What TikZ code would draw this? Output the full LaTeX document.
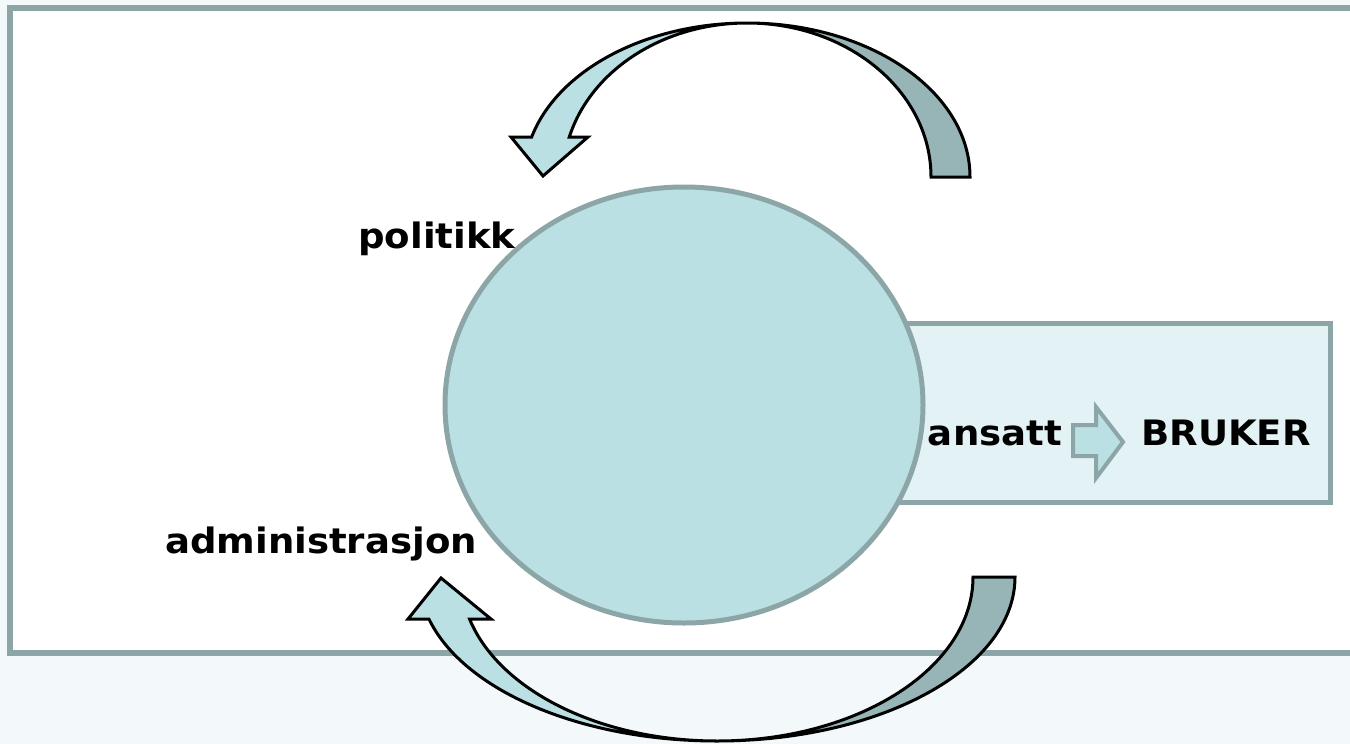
\documentclass[tikz,border=0pt]{standalone}
\usepackage{fontspec}
\setmainfont{DejaVu Sans}
\newfontfamily\lblfont[FakeStretch=1.06]{DejaVu Sans}
\usetikzlibrary{shapes.geometric}
\definecolor{pagebg}{HTML}{F3F8FA}
\definecolor{framegray}{HTML}{8CA6A8}
\definecolor{boxfill}{HTML}{E3F2F4}
\definecolor{lightteal}{HTML}{BBE0E3}
\definecolor{darkteal}{HTML}{97B5B6}

\begin{document}
\begin{tikzpicture}[x=1pt,y=-1pt,
    lbl/.style={font=\lblfont\bfseries\fontsize{35}{42}\selectfont,inner sep=0pt,anchor=base},
    curvearrow/.style={draw=black,line width=3pt}]
    \useasboundingbox (0,0) rectangle (1350,744);
    \clip (0,0) rectangle (1350,744);
    \fill[pagebg] (0,0) rectangle (1350,744);
    \draw[framegray,line width=6pt,fill=white] (10,8) rectangle (1370,653);
    \draw[framegray,line width=5pt,fill=boxfill] (800,323) rectangle (1330,502);
    \node[ellipse,draw=framegray,line width=5pt,fill=lightteal,
        minimum width=478pt,minimum height=436pt] (core) at (684,405) {};
    \node[lbl] (pol) at (437,248) {politikk};
    \node[lbl] (adm) at (321,553) {administrasjon};
    \node[lbl] (ans) at (995,445) {ansatt};
    \node[lbl] (bru) at (1226,445) {BRUKER};
    \draw[framegray,line width=4pt,fill=lightteal]
        (1073,425) -- (1096,425) -- (1096,407) -- (1123,442)
        -- (1096,478) -- (1096,456) -- (1073,456) -- cycle;
    \draw[curvearrow,fill=darkteal] (747,23)
        arc[start angle=270,end angle=360,x radius=223,y radius=154] -- (931,177)
        arc[start angle=0,end angle=-90,x radius=184,y radius=154] -- cycle;
    \draw[curvearrow,fill=lightteal] (531.66,137)
        arc[start angle=195.06,end angle=270,x radius=223,y radius=154]
        arc[start angle=270,end angle=195.06,x radius=184,y radius=154]
        -- (588,137) -- (543,176) -- (511,137) -- cycle;
    \draw[curvearrow,fill=darkteal] (717,741)
        arc[start angle=90,end angle=0,x radius=298,y radius=164] -- (973,577)
        arc[start angle=0,end angle=90,x radius=256,y radius=164] -- cycle;
    \draw[curvearrow,fill=lightteal] (428.94,619)
        arc[start angle=165.16,end angle=90,x radius=298,y radius=164]
        arc[start angle=90,end angle=165.16,x radius=256,y radius=164]
        -- (491,619) -- (441,578) -- (408,619) -- cycle;
\end{tikzpicture}
\end{document}
